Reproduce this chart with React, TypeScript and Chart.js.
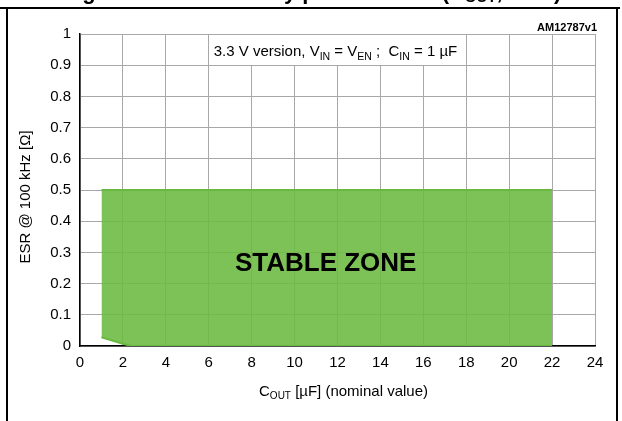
import { useEffect, useRef } from 'react';
import { Chart, registerables } from 'chart.js';

Chart.register(...registerables);

// ---- data ----
const zoneUpperX = [1, 22];
const zoneUpperY = [0.5, 0.5];
const zoneLowerX = [1, 2, 2.4, 22];
const zoneLowerY = [0.028, 0.007, 0, 0];

const xTickLabels = ['0', '2', '4', '6', '8', '10', '12', '14', '16', '18', '20', '22', '24'];
const yTickLabels = ['0', '0.1', '0.2', '0.3', '0.4', '0.5', '0.6', '0.7', '0.8', '0.9', '1'];

const FONT = "'Liberation Sans', Arial, Helvetica, sans-serif";

type Part = { t: string; sub?: boolean };

function richWidth(ctx: CanvasRenderingContext2D, parts: Part[], size: number, subSize: number, weight = '') {
  let w = 0;
  for (const p of parts) {
    ctx.font = `${weight} ${p.sub ? subSize : size}px ${FONT}`;
    w += ctx.measureText(p.t).width;
  }
  return w;
}

function drawRich(
  ctx: CanvasRenderingContext2D,
  parts: Part[],
  x: number,
  y: number,
  size: number,
  subSize: number,
  subOffset: number,
  weight = ''
) {
  let cx = x;
  ctx.textAlign = 'left';
  ctx.textBaseline = 'alphabetic';
  for (const p of parts) {
    ctx.font = `${weight} ${p.sub ? subSize : size}px ${FONT}`;
    ctx.fillText(p.t, cx, p.sub ? y + subOffset : y);
    cx += ctx.measureText(p.t).width;
  }
}

const decorPlugin = {
  id: 'decor',
  beforeDatasetsDraw(chart: any) {
    const { ctx, scales } = chart;
    const xs = scales.x;
    const ys = scales.y;
    // white note box covering the grid cells
    const l = Math.round(xs.getPixelForValue(6)) + 1;
    const r = Math.round(xs.getPixelForValue(18));
    const t = Math.round(ys.getPixelForValue(1)) + 1;
    const b = Math.round(ys.getPixelForValue(0.9));
    ctx.save();
    ctx.fillStyle = '#ffffff';
    ctx.fillRect(l, t, r - l, b - t);
    ctx.restore();
  },
  afterDatasetsDraw(chart: any) {
    const { ctx, scales } = chart;
    const xs = scales.x;
    const ys = scales.y;
    ctx.save();
    ctx.fillStyle = '#000000';
    // note text
    const noteParts: Part[] = [
      { t: '3.3 V version, V' },
      { t: 'IN', sub: true },
      { t: ' = V' },
      { t: 'EN', sub: true },
      { t: ' ;  C' },
      { t: 'IN', sub: true },
      { t: ' = 1 µF' },
    ];
    drawRich(ctx, noteParts, xs.getPixelForValue(6) + 5, ys.getPixelForValue(0.95) + 6, 15, 10.5, 4);
    // stable zone label
    ctx.font = `bold 26px ${FONT}`;
    ctx.textAlign = 'center';
    ctx.textBaseline = 'alphabetic';
    ctx.fillText('STABLE ZONE', xs.getPixelForValue(11.45), ys.getPixelForValue(0.27) + 9);
    ctx.restore();
  },
  afterDraw(chart: any) {
    const { ctx, chartArea } = chart;
    ctx.save();
    // outer frame
    ctx.strokeStyle = '#000000';
    ctx.lineWidth = 2;
    ctx.beginPath();
    ctx.moveTo(0, 8);
    ctx.lineTo(620, 8);
    ctx.moveTo(7, 8);
    ctx.lineTo(7, 421);
    ctx.moveTo(617, 8);
    ctx.lineTo(617, 421);
    ctx.stroke();

    // clipped figure title above the frame
    ctx.fillStyle = '#000000';
    const titleParts: Part[] = [
      { t: 'Figure 6. LDO stability plot for 3.3 V (C' },
      { t: 'OUT', sub: true },
      { t: ', ESR)' },
    ];
    const tw = richWidth(ctx, titleParts, 22, 15, 'bold');
    drawRich(ctx, titleParts, 312 - tw / 2, -1, 22, 15, 3, 'bold');

    // document id
    ctx.font = `bold 11px ${FONT}`;
    ctx.textAlign = 'right';
    ctx.textBaseline = 'alphabetic';
    ctx.fillText('AM12787v1', chartArea.right + 2, chartArea.top - 3);

    // y-axis title
    ctx.save();
    ctx.translate(26, (chartArea.top + chartArea.bottom) / 2 + 7);
    ctx.rotate(-Math.PI / 2);
    ctx.font = `15px ${FONT}`;
    ctx.textAlign = 'center';
    ctx.textBaseline = 'middle';
    ctx.fillText('ESR @ 100 kHz [Ω]', 0, 0);
    ctx.restore();

    // x-axis title
    const xParts: Part[] = [{ t: 'C' }, { t: 'OUT', sub: true }, { t: ' [µF] (nominal value)' }];
    const xw = richWidth(ctx, xParts, 15, 10);
    drawRich(ctx, xParts, (chartArea.left + chartArea.right) / 2 + 6 - xw / 2, 396, 15, 10, 3);
    ctx.restore();
  },
};

export default function App() {
  const canvasRef = useRef<HTMLCanvasElement | null>(null);

  useEffect(() => {
    const canvas = canvasRef.current;
    if (!canvas) return;
    const chart = new Chart(canvas, {
      type: 'line',
      data: {
        datasets: [
          {
            label: 'upper',
            data: zoneUpperX.map((x, i) => ({ x, y: zoneUpperY[i] })),
            borderColor: 'rgb(104,184,66)',
            borderWidth: 2,
            backgroundColor: 'rgba(106,186,63,0.88)',
            fill: '+1',
            pointRadius: 0,
            tension: 0,
          },
          {
            label: 'lower',
            data: zoneLowerX.map((x, i) => ({ x, y: zoneLowerY[i] })),
            borderColor: 'rgb(104,184,66)',
            borderWidth: 2,
            fill: false,
            pointRadius: 0,
            tension: 0,
          },
        ],
      },
      plugins: [decorPlugin],
      options: {
        responsive: false,
        animation: false,
        devicePixelRatio: 1,
        layout: { padding: { top: 34, right: 27, left: 0, bottom: 0 } },
        plugins: {
          legend: { display: false },
          tooltip: { enabled: false },
          title: { display: false },
        },
        scales: {
          x: {
            type: 'linear',
            min: 0,
            max: 24,
            afterFit: (s: any) => {
              s.height = 75;
            },
            ticks: {
              stepSize: 2,
              autoSkip: false,
              maxRotation: 0,
              padding: 8,
              color: '#000000',
              font: { family: FONT, size: 15 },
              callback: (_v: any, i: number) => xTickLabels[i],
            },
            grid: { color: '#a8a8a8', lineWidth: 1, drawTicks: false },
            border: { color: '#000000', width: 1.5 },
          },
          y: {
            type: 'linear',
            min: 0,
            max: 1,
            afterFit: (s: any) => {
              s.width = 80;
            },
            ticks: {
              stepSize: 0.1,
              autoSkip: false,
              padding: 9,
              color: '#000000',
              font: { family: FONT, size: 15 },
              callback: (_v: any, i: number) => yTickLabels[i],
            },
            grid: { color: '#a8a8a8', lineWidth: 1, drawTicks: false },
            border: { color: '#000000', width: 1.5 },
          },
        },
      },
    } as any);
    return () => chart.destroy();
  }, []);

  return (
    <div style={{ position: 'fixed', left: 0, top: 0, width: 622, height: 421, background: '#ffffff' }}>
      <canvas ref={canvasRef} width={622} height={421} style={{ display: 'block', width: 622, height: 421 }} />
    </div>
  );
}
